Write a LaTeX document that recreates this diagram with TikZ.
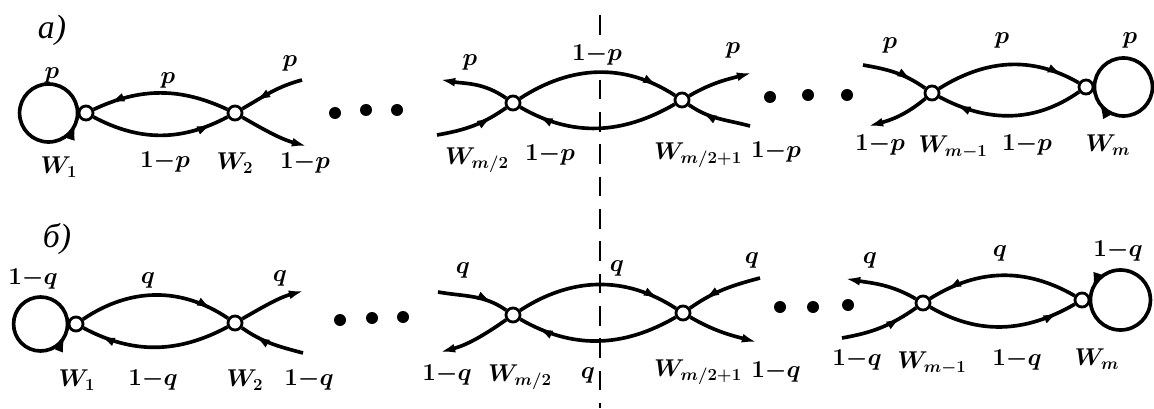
\documentclass[tikz,border=0pt]{standalone}
\usepackage{fontspec}
\newfontfamily\cyrfont{Liberation Serif}
\usetikzlibrary{arrows.meta,decorations.markings}

\begin{document}
\begin{tikzpicture}[
  x=0.025cm, y=0.025cm,
  font=\fontsize{18}{21}\selectfont\boldmath,
  hd/.tip={Latex[length=13pt,width=6pt]},
  state/.style={circle, draw, fill=white, line width=2pt, inner sep=0pt, minimum size=10pt},
  link/.style={line width=2.6pt},
  arr/.style={link, -hd},
  midarr/.style={link, postaction={decorate}, decoration={markings, mark=at position #1 with {\arrow{hd}}}},
  lbl/.style={inner sep=1pt},
  cut/.style={line width=2pt, dash pattern=on 14pt off 9pt},
]
\useasboundingbox (0,0) rectangle (1154,408);
% symmetry cut
\coordinate (cuttop) at (600,393);
\coordinate (cutbot) at (600,0);
\draw[cut] (cuttop) -- (cutbot);

% row a
\node[lbl, font=\fontsize{24}{26}\selectfont] (ta) at (52,378) {\cyrfont\itshape а)};
\node[state] (a1) at (86,295) {};
\node[state] (a2) at (235,295) {};
\node[state] (am2) at (513,305) {};
\node[state] (am3) at (682,308) {};
\node[state] (am1) at (932,315) {};
\node[state] (am) at (1086,321) {};
\coordinate (a2ne) at (302,328);
\coordinate (a2se) at (310,261);
\coordinate (am2nw) at (437,329);
\coordinate (am2sw) at (437,273);
\coordinate (am3ne) at (755,336);
\coordinate (am3se) at (750,282);
\coordinate (am1nw) at (863,343);
\coordinate (am1sw) at (865,281);
\draw[midarr=0.95] (a1.west) arc[start angle=0, end angle=360, radius=29];
\draw[midarr=0.9] (a2) to[out=155, in=25] (a1);
\draw[midarr=0.9] (a1) to[out=-28, in=-152] (a2);
\draw[midarr=0.82] (a2ne) to[out=195, in=30] (a2);
\draw[arr] (a2) to[out=-30, in=165] (a2se);
\draw[arr] (am2) to[out=145, in=-10] (am2nw);
\draw[midarr=0.82] (am2sw) to[out=10, in=-145] (am2);
\draw[midarr=0.9] (am2) to[out=33, in=147] (am3);
\draw[midarr=0.9] (am3) to[out=-150, in=-30] (am2);
\draw[arr] (am3) to[out=30, in=195] (am3ne);
\draw[midarr=0.82] (am3se) to[out=165, in=-35] (am3);
\draw[midarr=0.82] (am1nw) to[out=-10, in=145] (am1);
\draw[arr] (am1) to[out=-140, in=15] (am1sw);
\draw[midarr=0.9] (am1) to[out=32, in=150] (am);
\draw[midarr=0.9] (am) to[out=-145, in=-28] (am1);
\draw[midarr=0.92] (am.east) arc[start angle=180, end angle=-180, radius=29];
\node[lbl] (pa1) at (52,333) {$p$};
\node[lbl] (wa1) at (59,241) {$W_1$};
\node[lbl] (pa12) at (168,328) {$p$};
\node[lbl] (qa12) at (165,246) {$1{-}p$};
\node[lbl] (wa2) at (235,245) {$W_2$};
\node[lbl] (pa2) at (290,345) {$p$};
\node[lbl] (qa2) at (305,245) {$1{-}p$};
\node[lbl] (pam2) at (470,346) {$p$};
\node[lbl] (wam2) at (477,248) {$W_{m/2}$};
\node[lbl, fill=white] (qamt) at (597,353) {$1{-}p$};
\node[lbl] (qamb) at (550,253) {$1{-}p$};
\node[lbl] (wam3) at (698,253) {$W_{m/2+1}$};
\node[lbl] (qam3) at (776,256) {$1{-}p$};
\node[lbl] (pam3) at (733,358) {$p$};
\node[lbl] (pam1) at (890,363) {$p$};
\node[lbl] (qam1) at (880,263) {$1{-}p$};
\node[lbl] (wam1) at (953,261) {$W_{m-1}$};
\node[lbl] (pamt) at (1002,368) {$p$};
\node[lbl] (qamb2) at (1027,263) {$1{-}p$};
\node[lbl] (pam) at (1130,368) {$p$};
\node[lbl] (wam) at (1108,263) {$W_m$};
\fill (335,295) circle[radius=6];
\fill (366,298) circle[radius=6];
\fill (397,298) circle[radius=6];
\fill (770,311) circle[radius=6];
\fill (808,313) circle[radius=6];
\fill (847,313) circle[radius=6];

% row b
\node[lbl, font=\fontsize{24}{26}\selectfont] (tb) at (57,169) {\cyrfont\itshape б)};
\node[state] (b1) at (76,84) {};
\node[state] (b2) at (235,85) {};
\node[state] (bm2) at (513,93) {};
\node[state] (bm3) at (683,95) {};
\node[state] (bm1) at (923,105) {};
\node[state] (bm) at (1082,108) {};
\coordinate (b2ne) at (307,118);
\coordinate (b2se) at (303,55);
\coordinate (bm2nw) at (438,116);
\coordinate (bm2sw) at (437,55);
\coordinate (bm3ne) at (760,130);
\coordinate (bm3se) at (760,65);
\coordinate (bm1nw) at (842,130);
\coordinate (bm1sw) at (842,70);
\draw[midarr=0.94] (b1.west) arc[start angle=0, end angle=360, radius=27];
\draw[midarr=0.9] (b1) to[out=34, in=146] (b2);
\draw[midarr=0.9] (b2) to[out=-152, in=-28] (b1);
\draw[arr] (b2) to[out=30, in=195] (b2ne);
\draw[midarr=0.82] (b2se) to[out=165, in=-35] (b2);
\draw[midarr=0.82] (bm2nw) to[out=-10, in=145] (bm2);
\draw[arr] (bm2) to[out=-145, in=15] (bm2sw);
\draw[midarr=0.9] (bm2) to[out=33, in=147] (bm3);
\draw[midarr=0.9] (bm3) to[out=-150, in=-30] (bm2);
\draw[midarr=0.82] (bm3ne) to[out=195, in=35] (bm3);
\draw[arr] (bm3) to[out=-30, in=165] (bm3se);
\draw[arr] (bm1) to[out=150, in=-10] (bm1nw);
\draw[midarr=0.82] (bm1sw) to[out=10, in=-145] (bm1);
\draw[midarr=0.9] (bm) to[out=150, in=32] (bm1);
\draw[midarr=0.9] (bm1) to[out=-30, in=-150] (bm);
\draw[midarr=0.95] (bm.east) arc[start angle=180, end angle=540, radius=30];
\node[lbl] (qb1) at (33,129) {$1{-}q$};
\node[lbl] (wb1) at (77,28) {$W_1$};
\node[lbl] (pb12) at (148,128) {$q$};
\node[lbl] (qb12) at (153,28) {$1{-}q$};
\node[lbl] (wb2) at (245,28) {$W_2$};
\node[lbl] (pb2) at (280,130) {$q$};
\node[lbl] (qb2) at (309,28) {$1{-}q$};
\node[lbl] (pbm2) at (463,138) {$q$};
\node[lbl] (qbm2) at (447,33) {$1{-}q$};
\node[lbl] (wbm2) at (520,31) {$W_{m/2}$};
\node[lbl] (pbmt) at (617,140) {$q$};
\node[lbl] (pbmb) at (588,33) {$q$};
\node[lbl] (wbm3) at (698,36) {$W_{m/2+1}$};
\node[lbl] (qbm3) at (776,36) {$1{-}q$};
\node[lbl] (pbm3) at (752,148) {$q$};
\node[lbl] (pbm1) at (870,148) {$q$};
\node[lbl] (qbm1) at (857,48) {$1{-}q$};
\node[lbl] (wbm1) at (932,45) {$W_{m-1}$};
\node[lbl] (pbmt2) at (1000,155) {$q$};
\node[lbl] (qbmb2) at (1017,48) {$1{-}q$};
\node[lbl] (qbm) at (1118,157) {$1{-}q$};
\node[lbl] (wbm) at (1097,49) {$W_m$};
\fill (340,88) circle[radius=6];
\fill (372,90) circle[radius=6];
\fill (403,91) circle[radius=6];
\fill (780,101) circle[radius=6];
\fill (813,101) circle[radius=6];
\fill (848,103) circle[radius=6];
\end{tikzpicture}
\end{document}
